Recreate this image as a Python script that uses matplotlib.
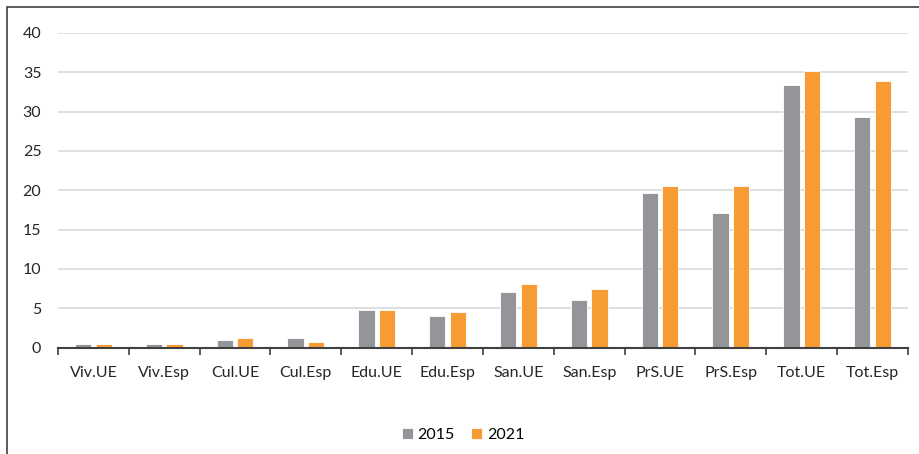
import matplotlib.pyplot as plt
import numpy as np
from matplotlib.patches import Rectangle

categories = ['Viv.UE', 'Viv.Esp', 'Cul.UE', 'Cul.Esp', 'Edu.UE', 'Edu.Esp',
              'San.UE', 'San.Esp', 'PrS.UE', 'PrS.Esp', 'Tot.UE', 'Tot.Esp']
years = ['2015', '2021']
values_2015 = [0.5, 0.5, 1.0, 1.2, 4.8, 4.0, 7.1, 6.1, 19.7, 17.1, 33.4, 29.3]
values_2021 = [0.4, 0.5, 1.2, 0.7, 4.8, 4.5, 8.1, 7.4, 20.5, 20.5, 35.2, 33.9]
y_ticks = [0, 5, 10, 15, 20, 25, 30, 35, 40]

plt.rcParams['font.family'] = ['Lato', 'DejaVu Sans']

fig = plt.figure(figsize=(9.2, 4.54), dpi=100)
ax = fig.add_axes([58 / 920, 1 - 347.5 / 454, 850 / 920, (347.5 - 33) / 454])

# outer frame of the chart area (cut at the right and bottom like the original)
fig.patches.append(Rectangle((7 / 920, -0.1), 1.2, 1 - 7 / 454 + 0.1, transform=fig.transFigure,
                             fill=False, edgecolor='#404040', linewidth=1.2))

x = np.arange(len(categories))
w = 0.23
off = 0.145
ax.bar(x - off, values_2015, width=w, color='#939598', edgecolor='white', linewidth=0.6,
       label=years[0], zorder=3)
ax.bar(x + off, values_2021, width=w, color='#F79B34', edgecolor='white', linewidth=0.6,
       label=years[1], zorder=3)

ax.set_xlim(-0.5, len(categories) - 0.5)
ax.set_ylim(0, 40)
ax.set_yticks(y_ticks)
ax.set_xticks(x)
ax.set_xticklabels(categories)
ax.set_xticks(np.arange(len(categories) + 1) - 0.5, minor=True)
ax.tick_params(axis='x', which='major', length=0, pad=13, labelsize=11.5, colors='#262626')
ax.tick_params(axis='x', which='minor', length=5, width=1.2, color='#404040')
ax.tick_params(axis='y', length=0, pad=12, labelsize=11.5, colors='#262626')

ax.grid(axis='y', color='#d9d9d9', linewidth=1.2, zorder=0)
for s in ['top', 'right', 'left']:
    ax.spines[s].set_visible(False)
ax.spines['bottom'].set_color('#404040')
ax.spines['bottom'].set_linewidth(1.5)
ax.spines['bottom'].set_zorder(4)

fig.legend(loc='center', bbox_to_anchor=(463 / 920, 1 - 435 / 454), ncol=2, frameon=False,
           fontsize=11.5, handlelength=0.7, handleheight=0.7, handletextpad=0.3, columnspacing=1.0)

fig.savefig('out.png', dpi=100)
